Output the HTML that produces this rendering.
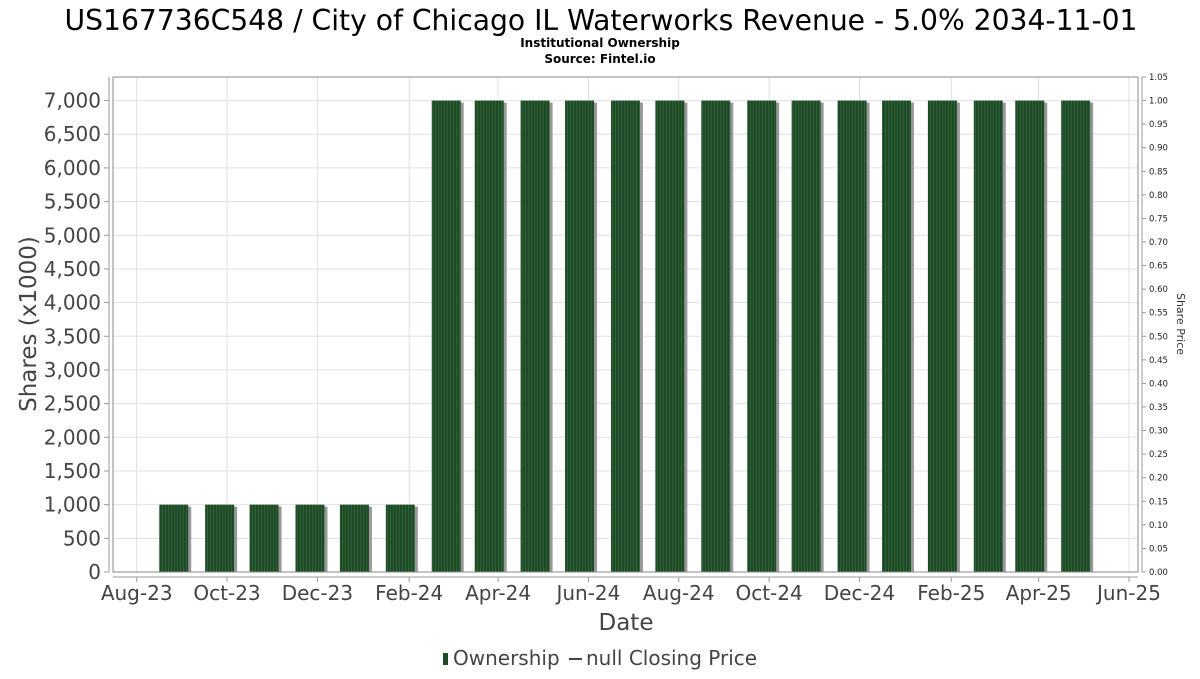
<!DOCTYPE html>
<html><head><meta charset="utf-8"><style>
body{margin:0;background:#fff;width:1200px;height:675px;overflow:hidden;font-family:"DejaVu Sans","Liberation Sans",sans-serif}
</style></head><body>
<svg id="c" width="1200" height="675" xmlns="http://www.w3.org/2000/svg" font-family="DejaVu Sans, Liberation Sans, sans-serif">
<defs>
<pattern id="stripe" width="3" height="10" patternUnits="userSpaceOnUse"><rect width="3" height="10" fill="#1f4a28"/><rect width="1" height="10" fill="#2e6338"/></pattern>
</defs>
<text x="601" y="30" font-size="28.2" text-anchor="middle" fill="#000">US167736C548 / City of Chicago IL Waterworks Revenue - 5.0% 2034-11-01</text>
<text x="600" y="47" font-size="12" font-weight="bold" text-anchor="middle">Institutional Ownership</text>
<text x="600" y="63" font-size="12" font-weight="bold" text-anchor="middle">Source: Fintel.io</text>
<g id="grid"></g>
<g id="bars"></g>
<rect x="113" y="77" width="1025" height="495" fill="none" stroke="#888"/>
<line x1="109" y1="77" x2="109" y2="572" stroke="#999"/>
<line x1="113" y1="577" x2="1138" y2="577" stroke="#999"/>
<line x1="1142" y1="77" x2="1142" y2="572" stroke="#999"/>
<g id="axes"></g>
<text transform="translate(36,324) rotate(-90)" font-size="23" text-anchor="middle" fill="#444">Shares (x1000)</text>
<text transform="translate(1177,324) rotate(90)" font-size="11" text-anchor="middle" fill="#333">Share Price</text>
<text x="626" y="630" font-size="23" text-anchor="middle" fill="#444">Date</text>
<g>
<rect x="443" y="653" width="5" height="12" fill="#1f4a28"/>
<text x="453" y="665" font-size="20" fill="#444">Ownership</text>
<line x1="569" y1="659" x2="582" y2="659" stroke="#444" stroke-width="2"/>
<text x="586" y="665" font-size="20" fill="#444">null Closing Price</text>
</g>
</svg>
<script>
const barDates=['2023-08-26','2023-09-26','2023-10-26','2023-11-26','2023-12-26','2024-01-26','2024-02-26','2024-03-26','2024-04-26','2024-05-26','2024-06-26','2024-07-26','2024-08-26','2024-09-26','2024-10-26','2024-11-26','2024-12-26','2025-01-26','2025-02-26','2025-03-26','2025-04-26'];
const shares=[1000,1000,1000,1000,1000,1000,7000,7000,7000,7000,7000,7000,7000,7000,7000,7000,7000,7000,7000,7000,7000];
const yTicks=[0,500,1000,1500,2000,2500,3000,3500,4000,4500,5000,5500,6000,6500,7000];
const y2Ticks=[0,0.05,0.1,0.15,0.2,0.25,0.3,0.35,0.4,0.45,0.5,0.55,0.6,0.65,0.7,0.75,0.8,0.85,0.9,0.95,1.0,1.05];
const xTickDates=['2023-08-01','2023-10-01','2023-12-01','2024-02-01','2024-04-01','2024-06-01','2024-08-01','2024-10-01','2024-12-01','2025-02-01','2025-04-01','2025-06-01'];
const xTickLabels=['Aug-23','Oct-23','Dec-23','Feb-24','Apr-24','Jun-24','Aug-24','Oct-24','Dec-24','Feb-25','Apr-25','Jun-25'];
const NS='http://www.w3.org/2000/svg';
const d0=Date.parse('2023-08-01'),d1=Date.parse('2025-06-01');
const x=d=>136.7+(Date.parse(d)-d0)/(d1-d0)*(1129-136.7);
const y=v=>572-v/7350*495;
const y2=v=>572-v/1.05*495;
function mk(t,a,p){const e=document.createElementNS(NS,t);for(const k in a)e.setAttribute(k,a[k]);p.appendChild(e);return e;}
const grid=document.getElementById('grid'),bars=document.getElementById('bars'),axes=document.getElementById('axes');
yTicks.forEach(v=>{
 const g=mk('line',{x1:113,x2:1138,y1:y(v),y2:y(v),stroke:'#e0e0e0'},grid);
 
 
 mk('line',{x1:104,x2:109,y1:y(v),y2:y(v),stroke:'#999'},axes);
 const t=mk('text',{x:101,y:y(v)+7,'font-size':20,'text-anchor':'end',fill:'#444'},axes);
 t.textContent=v.toLocaleString('en-US');
 
 
});
y2Ticks.forEach(v=>{
 mk('line',{x1:1142,x2:1146,y1:y2(v),y2:y2(v),stroke:'#999'},axes);
 const t=mk('text',{x:1149,y:y2(v)+3,'font-size':8.5,fill:'#222'},axes);
 t.textContent=v.toFixed(2);
 
 
});
xTickDates.forEach((d,i)=>{
 const g=mk('line',{x1:x(d),x2:x(d),y1:77,y2:572,stroke:'#e0e0e0'},grid);
 
 
 mk('line',{x1:x(d),x2:x(d),y1:577,y2:582,stroke:'#999'},axes);
 const t=mk('text',{x:x(d),y:600,'font-size':20,'text-anchor':'middle',fill:'#444'},axes);
 t.textContent=xTickLabels[i];
 
 
});
barDates.forEach((d,i)=>{
 const cx=x(d),w=29,top=y(shares[i]);
 mk('rect',{x:cx-w/2+3,y:top+2,width:w,height:572-top-2,fill:'#999'},bars);
 const r=mk('rect',{x:cx-w/2,y:top,width:w,height:572-top,fill:'url(#stripe)'},bars);
 
 
});
</script>
</body></html>
